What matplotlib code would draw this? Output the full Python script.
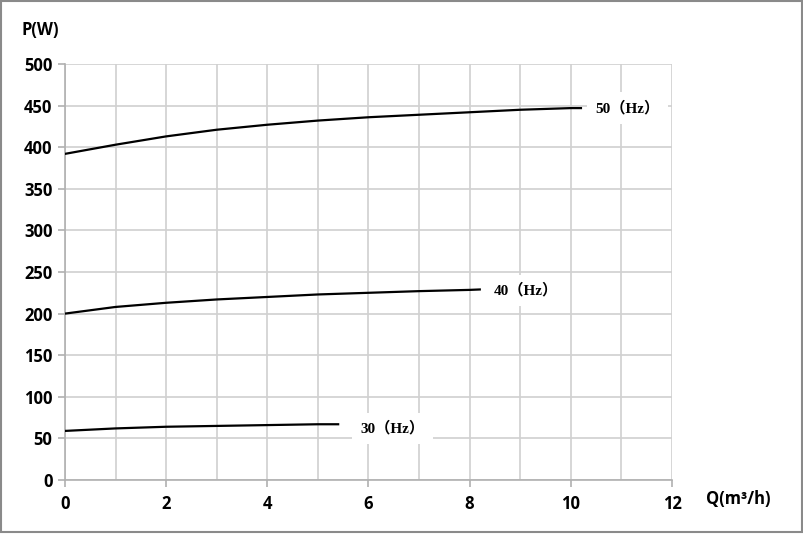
import matplotlib.pyplot as plt
from matplotlib.patches import Rectangle

# flow (m3/h) vs power (W) at three frequencies
q_50 = [0, 1, 2, 3, 4, 5, 6, 7, 8, 9, 10, 10.2]
p_50 = [392, 403, 413, 421, 427, 432, 436, 439, 442, 445, 447, 447]
q_40 = [0, 1, 2, 3, 4, 5, 6, 7, 8, 8.2]
p_40 = [200, 208, 213, 217, 220, 223, 225, 227, 228.5, 229]
q_30 = [0, 1, 2, 3, 4, 5, 5.4]
p_30 = [59, 62, 64, 65, 66, 67, 67]

labels = ["50（Hz）", "40（Hz）", "30（Hz）"]
label_pos = [(11.12, 447), (9.12, 228), (6.48, 62)]

x_ticks = [0, 2, 4, 6, 8, 10, 12]
y_ticks = [0, 50, 100, 150, 200, 250, 300, 350, 400, 450, 500]

grey = "#b0b0b0"
tick_font = {"family": ["Open Sans", "DejaVu Sans"], "weight": "bold", "size": 12}

fig = plt.figure(figsize=(8.04, 5.34), dpi=100)
ax = fig.add_axes([65 / 804, 54 / 534, 607 / 804, 416 / 534])

for q, p in [(q_50, p_50), (q_40, p_40), (q_30, p_30)]:
    ax.plot(q, p, color="black", linewidth=1.6, zorder=3)

for text, (x, y) in zip(labels, label_pos):
    ax.text(x, y, text, ha="center", va="center", fontsize=11, fontweight="bold",
            family=["Liberation Serif", "Noto Sans CJK SC"], zorder=4,
            bbox=dict(facecolor="white", edgecolor="none", pad=6))

ax.set_xlim(0, 12)
ax.set_ylim(0, 500)
ax.set_xticks(x_ticks)
ax.set_xticks(range(0, 13), minor=True)
ax.set_yticks(y_ticks)
ax.grid(True, which="both", color="#d0d0d0", linewidth=1.2, zorder=0)
ax.set_axisbelow(True)

for side in ["top", "right"]:
    ax.spines[side].set_visible(False)
for side in ["left", "bottom"]:
    ax.spines[side].set_color(grey)
    ax.spines[side].set_linewidth(1.2)

ax.tick_params(which="major", color=grey, length=5, width=1.2, pad=4)
ax.tick_params(axis="x", which="major", pad=6)
ax.tick_params(which="minor", length=0)
for lbl in ax.get_xticklabels() + ax.get_yticklabels():
    lbl.set_fontproperties(tick_font)
    lbl.set_fontfamily(["Open Sans", "DejaVu Sans"])

fig.text(40 / 804, 1 - 30 / 534, "P(W)", ha="center", va="center", **tick_font)
fig.text(738 / 804, 1 - 499 / 534, "Q(m³/h)", ha="center", va="center", **tick_font)

fig.patches.append(Rectangle((1 / 804, 2 / 534), 801 / 804, 531 / 534, transform=fig.transFigure,
                             fill=False, edgecolor="#8a8a8a", linewidth=1.5))

plt.savefig("out.png", dpi=100)
